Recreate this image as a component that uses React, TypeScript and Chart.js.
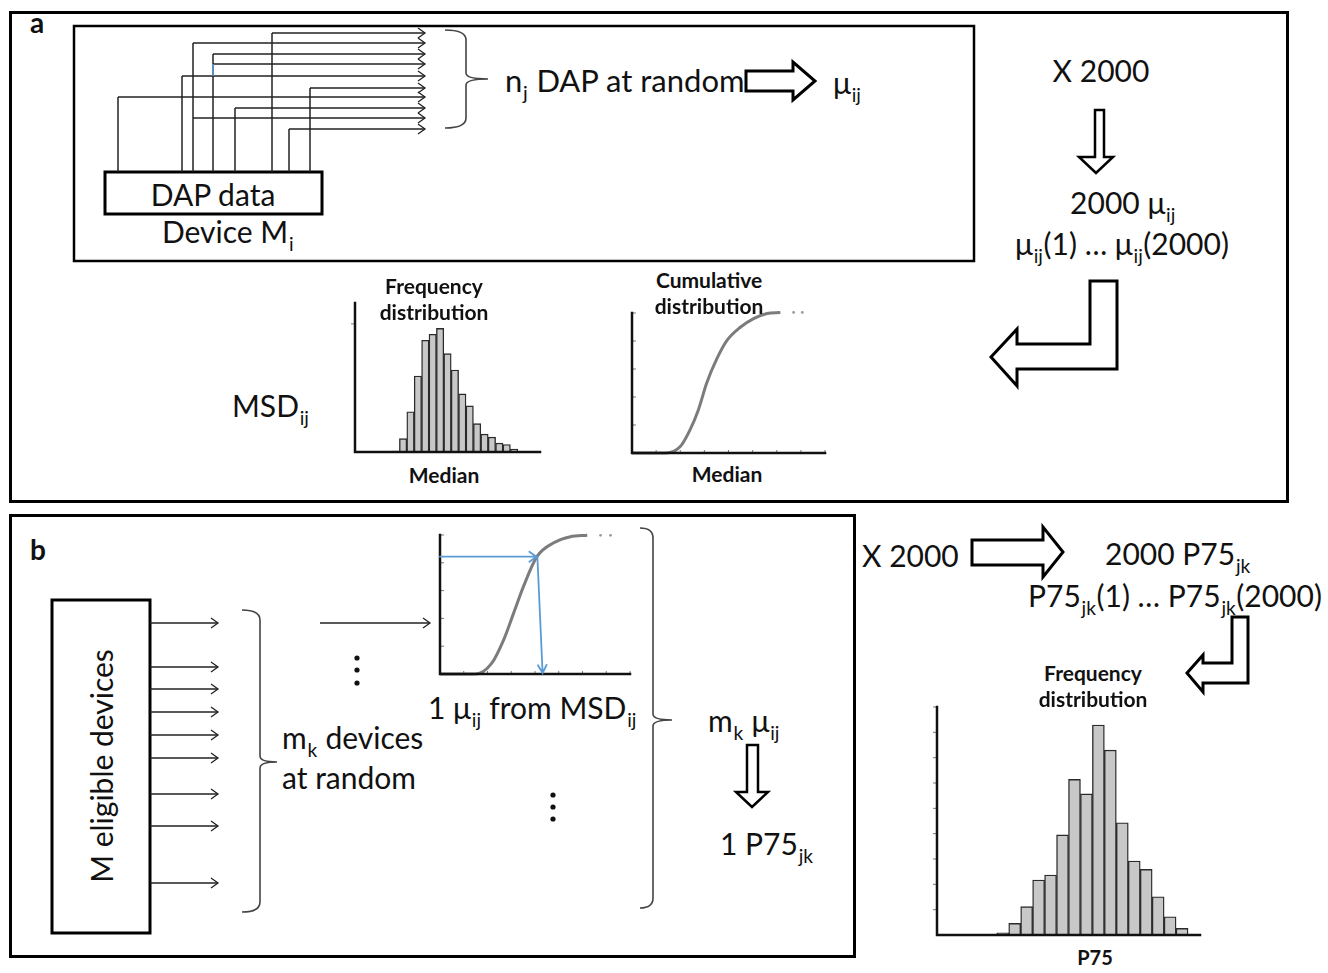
import React, { useEffect, useRef } from "react";
import { Chart, registerables } from "chart.js";
Chart.register(...registerables);

// ---------- DATA ----------
// (a) frequency distribution of medians (relative heights, max 100)
const histABins = Array.from({ length: 25 }, (_, i) => `m${i + 1}`);
const histACounts = [0, 0, 0, 0, 0, 0.7, 9, 27, 51, 75, 79, 83, 66, 55, 39, 31, 19, 12, 10, 6, 5, 2, 0, 0, 0];

// (a) cumulative distribution of medians
const cumAX = [0, 1.4, 1.99, 2.4, 2.75, 3.1, 3.51, 3.93, 4.49, 5.04, 5.6, 6.15];
const cumAY = [0, 0, 0.22, 0.82, 1.54, 2.51, 3.35, 4.01, 4.49, 4.8, 4.98, 5.02];
const cumATailX = [6.7, 7.06];
const cumATailY = [5.02, 5.02];

// (b) cumulative distribution MSD_ij
const cumBX = [0, 1.5, 2.18, 2.68, 3.1, 3.52, 4.08, 4.79, 5.49, 6.2];
const cumBY = [0, 0, 0.39, 1.23, 2.19, 3.16, 4.22, 4.72, 4.94, 4.99];
const cumBTailX = [6.76, 7.18];
const cumBTailY = [4.99, 4.99];
const pickY = 4.22;
const pickX = 4.1;
const pickXBottom = 4.32;

// (b) frequency distribution of P75
const histPBins = Array.from({ length: 22 }, (_, i) => `p${i + 1}`);
const histPCounts = [0, 0, 0, 0, 0, 0.09, 0.46, 1.12, 2.17, 2.37, 3.95, 6.14, 5.57, 8.29, 7.3, 4.43, 2.92, 2.59, 1.51, 0.72, 0.26, 0];

const cumXTicks = [1, 2, 3, 4, 5, 6, 7, 8];
const cumYTicks = [1, 2, 3, 4, 5];
const histPYTicks = [1, 2, 3, 4, 5, 6, 7, 8, 9];
const histAYTicks = [86];

// ---------- STYLE ----------
const FONT = "Lato, 'Open Sans', sans-serif";
const PAD = 6;

const axisPlugin = {
  id: "axes",
  afterDatasetsDraw(chart: any, _args: any, opts: any) {
    const { ctx, chartArea: a, scales } = chart;
    ctx.save();
    ctx.strokeStyle = "#777";
    ctx.lineWidth = 1;
    ctx.beginPath();
    (opts.yTicks || []).forEach((v: number) => {
      const y = scales.y.getPixelForValue(v);
      const d = opts.yTickOut ? -4 : 4;
      ctx.moveTo(a.left, y);
      ctx.lineTo(a.left + d, y);
    });
    (opts.xTicks || []).forEach((v: number) => {
      const x = scales.x.getPixelForValue(v);
      ctx.moveTo(x, a.bottom);
      ctx.lineTo(x, a.bottom - 3);
    });
    ctx.stroke();
    ctx.strokeStyle = "#111";
    ctx.lineWidth = opts.width || 2.5;
    ctx.lineCap = "square";
    ctx.beginPath();
    ctx.moveTo(a.left, a.top);
    ctx.lineTo(a.left, a.bottom);
    ctx.lineTo(a.right, a.bottom);
    ctx.stroke();

    if (opts.pick) {
      const p = opts.pick;
      const x0 = a.left;
      const y1 = scales.y.getPixelForValue(p.y);
      const x1 = scales.x.getPixelForValue(p.x);
      const x2 = scales.x.getPixelForValue(p.xb);
      const y2 = scales.y.getPixelForValue(0);
      ctx.strokeStyle = "#5b9bd5";
      ctx.lineWidth = 1.8;
      ctx.lineCap = "round";
      ctx.beginPath();
      ctx.moveTo(x0, y1);
      ctx.lineTo(x1 - 1, y1);
      ctx.moveTo(x1 - 8, y1 - 5);
      ctx.lineTo(x1 - 1, y1);
      ctx.lineTo(x1 - 8, y1 + 5);
      ctx.moveTo(x1, y1);
      ctx.lineTo(x2, y2 - 1);
      const ang = Math.atan2(y2 - y1, x2 - x1);
      const hl = 9;
      ctx.moveTo(x2 - hl * Math.cos(ang - 0.5), y2 - 1 - hl * Math.sin(ang - 0.5));
      ctx.lineTo(x2, y2 - 1);
      ctx.lineTo(x2 - hl * Math.cos(ang + 0.5), y2 - 1 - hl * Math.sin(ang + 0.5));
      ctx.stroke();
    }
    ctx.restore();
  },
};

function baseOptions(extra: any) {
  return {
    animation: false,
    responsive: false,
    devicePixelRatio: 1,
    events: [],
    layout: { padding: PAD },
    plugins: { legend: { display: false }, tooltip: { enabled: false }, axes: extra.axes },
    scales: extra.scales,
  };
}

function histConfig(labels: string[], counts: number[], ymax: number, axes: any) {
  return {
    type: "bar",
    data: {
      labels,
      datasets: [
        {
          data: counts,
          backgroundColor: "#c8c8c8",
          borderColor: "#2b2b2b",
          borderWidth: 1.4,
          barPercentage: 1,
          categoryPercentage: 1,
        },
      ],
    },
    options: baseOptions({
      axes,
      scales: {
        x: { display: false },
        y: { display: false, min: 0, max: ymax },
      },
    }),
    plugins: [axisPlugin],
  };
}

function cumConfig(xs: number[], ys: number[], tx: number[], ty: number[], axes: any) {
  return {
    type: "line",
    data: {
      datasets: [
        {
          data: xs.map((x, i) => ({ x, y: ys[i] })),
          borderColor: "#7c7c7c",
          borderWidth: 3,
          pointRadius: 0,
          cubicInterpolationMode: "monotone",
          clip: false,
        },
        {
          data: tx.map((x, i) => ({ x, y: ty[i] })),
          showLine: false,
          pointRadius: 1.4,
          pointBorderWidth: 0,
          pointBackgroundColor: "#9a9a9a",
          clip: false,
        },
      ],
    },
    options: baseOptions({
      axes,
      scales: {
        x: { type: "linear", display: false, min: 0, max: 8 },
        y: { display: false, min: 0, max: 5 },
      },
    }),
    plugins: [axisPlugin],
  };
}

function MiniChart({ x, y, w, h, config }: any) {
  const ref = useRef<HTMLCanvasElement>(null);
  useEffect(() => {
    const chart = new Chart(ref.current as HTMLCanvasElement, config);
    return () => chart.destroy();
  }, []);
  const W = w + 2 * PAD;
  const H = h + 2 * PAD;
  return (
    <div style={{ position: "absolute", left: x - PAD, top: y - PAD, width: W, height: H }}>
      <canvas ref={ref} width={W} height={H} style={{ display: "block", width: W, height: H }} />
    </div>
  );
}

function Sub({ children }: any) {
  return (
    <span style={{ fontSize: "0.64em", position: "relative", top: "0.4em", marginLeft: "0.04em", marginRight: "0.03em" }}>
      {children}
    </span>
  );
}

function T({ x, y, children, size = 30, bold = false, center = false, rotate = 0 }: any) {
  return (
    <div
      style={{
        position: "absolute",
        left: x,
        top: y,
        fontFamily: FONT,
        fontSize: size,
        fontWeight: bold ? 700 : 400,
        lineHeight: 1,
        whiteSpace: "nowrap",
        color: "#111",
        transform: `translate(${center ? "-50%" : "0"}, -50%)${rotate ? ` rotate(${rotate}deg)` : ""}`,
      }}
    >
      {children}
    </div>
  );
}

// ---------- DIAGRAM GEOMETRY ----------
const connectors = [
  { x: 118, top: 97, hs: [97] },
  { x: 182, top: 76, hs: [76] },
  { x: 193, top: 43, hs: [43, 118] },
  { x: 213, top: 54, hs: [54, 64] },
  { x: 235, top: 108, hs: [108] },
  { x: 272, top: 33, hs: [33] },
  { x: 289, top: 129, hs: [129] },
  { x: 310, top: 88, hs: [88] },
];
const deviceArrowsY = [623, 667, 689, 712, 735, 758, 794, 826, 883];

function brace(x0: number, x1: number, x2: number, y0: number, y1: number, ym: number) {
  const r = 10;
  return `M${x0},${y0} Q${x1},${y0} ${x1},${y0 + r} L${x1},${ym - 6} Q${x1},${ym} ${x2},${ym} Q${x1},${ym} ${x1},${ym + 6} L${x1},${y1 - r} Q${x1},${y1} ${x0},${y1}`;
}

function pts(a: number[][]) {
  return a.map((p) => p.join(",")).join(" ");
}

function Diagram() {
  const line = "#222";
  const arrowHead = (x: number, y: number) => `M${x - 7},${y - 5} L${x},${y} L${x - 7},${y + 5}`;
  return (
    <svg width={1328} height={973} style={{ position: "absolute", left: 0, top: 0 }}>
      <rect x={10.5} y={12.5} width={1277} height={489} fill="none" stroke="#000" strokeWidth={3} />
      <rect x={10.5} y={515.5} width={844} height={441} fill="none" stroke="#000" strokeWidth={3} />
      <rect x={74} y={26} width={900} height={235} fill="none" stroke="#000" strokeWidth={2.5} />
      <rect x={105} y={172} width={217} height={42} fill="#fff" stroke="#000" strokeWidth={3} />
      {connectors.map((c, i) => (
        <g key={i}>
          <line x1={c.x} y1={172} x2={c.x} y2={c.top} stroke={line} strokeWidth={1.5} />
          {c.hs.map((y, j) => (
            <g key={j}>
              <line x1={c.x} y1={y} x2={425} y2={y} stroke={line} strokeWidth={1.5} />
              <path d={arrowHead(425, y)} fill="none" stroke={line} strokeWidth={1.3} />
            </g>
          ))}
        </g>
      ))}
      <line x1={213} y1={64} x2={213} y2={76} stroke="#5b9bd5" strokeWidth={1.6} />
      <path d={brace(445, 466, 488, 30, 128, 79)} fill="none" stroke="#444" strokeWidth={1.6} />
      <polygon
        points={pts([[746, 71], [793, 71], [793, 62], [815, 81], [793, 100], [793, 91], [746, 91]])}
        fill="#fff"
        stroke="#000"
        strokeWidth={3}
      />
      <polygon
        points={pts([[1095, 110], [1104, 110], [1104, 157], [1113, 157], [1096, 173], [1079, 157], [1095, 157]])}
        fill="#fff"
        stroke="#000"
        strokeWidth={2.5}
      />
      <polygon
        points={pts([[1117, 281], [1117, 369], [1017, 369], [1017, 386], [991, 357], [1017, 329], [1017, 344], [1090, 344], [1090, 281]])}
        fill="#fff"
        stroke="#000"
        strokeWidth={3}
      />

      <rect x={52} y={600} width={98} height={333} fill="#fff" stroke="#000" strokeWidth={3} />
      {deviceArrowsY.map((y, i) => (
        <g key={i}>
          <line x1={150} y1={y} x2={218} y2={y} stroke={line} strokeWidth={1.5} />
          <path d={arrowHead(218, y)} fill="none" stroke={line} strokeWidth={1.3} />
        </g>
      ))}
      <path d={brace(242, 260, 277, 610, 912, 762)} fill="none" stroke="#444" strokeWidth={1.6} />
      <line x1={320} y1={623} x2={430} y2={623} stroke={line} strokeWidth={1.5} />
      <path d={arrowHead(430, 623)} fill="none" stroke={line} strokeWidth={1.3} />
      {[658, 670, 683].map((y) => (
        <circle key={y} cx={357} cy={y} r={2.6} fill="#111" />
      ))}
      {[795, 807, 819].map((y) => (
        <circle key={y} cx={553} cy={y} r={2.6} fill="#111" />
      ))}
      <path d={brace(640, 653, 672, 528, 908, 720)} fill="none" stroke="#444" strokeWidth={1.6} />
      <polygon
        points={pts([[747, 745], [758, 745], [758, 792], [768, 792], [752, 807], [736, 792], [747, 792]])}
        fill="#fff"
        stroke="#000"
        strokeWidth={2.5}
      />
      <polygon
        points={pts([[972, 540], [1043, 540], [1043, 527], [1063, 552], [1043, 577], [1043, 565], [972, 565]])}
        fill="#fff"
        stroke="#000"
        strokeWidth={3}
      />
      <polygon
        points={pts([[1248, 617], [1248, 683], [1203, 683], [1203, 692], [1187, 673], [1203, 655], [1203, 663], [1232, 663], [1232, 617]])}
        fill="#fff"
        stroke="#000"
        strokeWidth={3}
      />
    </svg>
  );
}

export default function App() {
  const histA = histConfig(histABins, histACounts, 100, { yTicks: histAYTicks, yTickOut: true });
  const cumA = cumConfig(cumAX, cumAY, cumATailX, cumATailY, { xTicks: cumXTicks, yTicks: cumYTicks });
  const cumB = cumConfig(cumBX, cumBY, cumBTailX, cumBTailY, {
    xTicks: cumXTicks,
    yTicks: cumYTicks,
    pick: { x: pickX, y: pickY, xb: pickXBottom },
  });
  const histP = histConfig(histPBins, histPCounts, 9, { yTicks: histPYTicks, yTickOut: true });

  return (
    <div style={{ position: "absolute", left: 0, top: 0, width: 1328, height: 973, background: "#fff", overflow: "hidden" }}>
      <Diagram />
      <MiniChart x={355} y={303} w={185} h={149} config={histA} />
      <MiniChart x={632} y={313} w={193} h={140} config={cumA} />
      <MiniChart x={440} y={535} w={190} h={139} config={cumB} />
      <MiniChart x={937} y={707} w={263} h={228} config={histP} />

      <T x={37} y={22} size={28} bold center>a</T>
      <T x={505} y={80} size={31}>n<Sub>j</Sub> DAP at random</T>
      <T x={833} y={82}>μ<Sub>ij</Sub></T>
      <T x={213} y={194} center>DAP data</T>
      <T x={228} y={231} center>Device M<Sub>i</Sub></T>
      <T x={1101} y={70} center>X 2000</T>
      <T x={1123} y={202} center>2000 μ<Sub>ij</Sub></T>
      <T x={1122} y={243} center>μ<Sub>ij</Sub>(1) … μ<Sub>ij</Sub>(2000)</T>
      <T x={434} y={285} size={21} bold center>Frequency</T>
      <T x={434} y={311} size={21} bold center>distribution</T>
      <T x={709} y={279} size={21} bold center>Cumulative</T>
      <T x={709} y={305} size={21} bold center>distribution</T>
      <T x={444} y={474} size={21} bold center>Median</T>
      <T x={727} y={473} size={21} bold center>Median</T>
      <T x={232} y={405}>MSD<Sub>ij</Sub></T>

      <T x={38} y={549} size={28} bold center>b</T>
      <T x={101} y={766} center rotate={-90}>M eligible devices</T>
      <T x={282} y={737}>m<Sub>k</Sub> devices</T>
      <T x={282} y={777}>at random</T>
      <T x={428} y={707}>1 μ<Sub>ij</Sub> from MSD<Sub>ij</Sub></T>
      <T x={708} y={720}>m<Sub>k</Sub> μ<Sub>ij</Sub></T>
      <T x={720} y={843}>1 P75<Sub>jk</Sub></T>
      <T x={862} y={555}>X 2000</T>
      <T x={1105} y={553}>2000 P75<Sub>jk</Sub></T>
      <T x={1028} y={595}>P75<Sub>jk</Sub>(1) … P75<Sub>jk</Sub>(2000)</T>
      <T x={1093} y={672} size={21} bold center>Frequency</T>
      <T x={1093} y={698} size={21} bold center>distribution</T>
      <T x={1095} y={957} size={20} bold center>P75</T>
    </div>
  );
}
